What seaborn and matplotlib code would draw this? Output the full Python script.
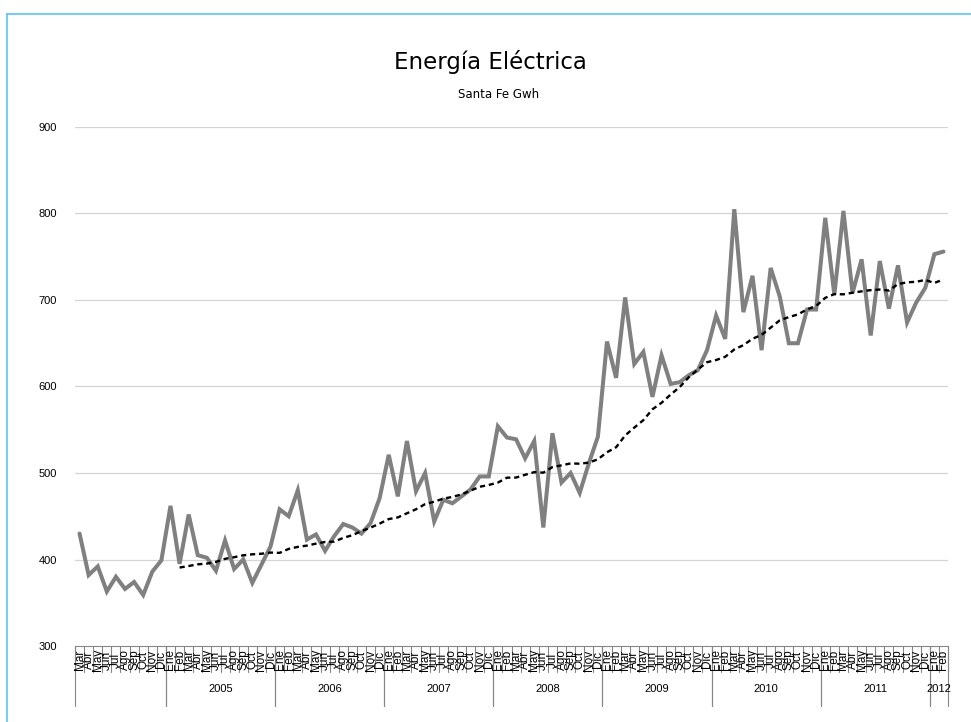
import numpy as np
import pandas as pd
import matplotlib
matplotlib.use("Agg")
import matplotlib.pyplot as plt
import seaborn as sns
from matplotlib.lines import Line2D
from matplotlib.transforms import blended_transform_factory

# Monthly electricity demand, Santa Fe (GWh), Mar 2004 - Feb 2012
gwh_2004 = [430, 382, 392, 363, 380, 366, 374, 359, 386, 399]
gwh_2005 = [462, 395, 452, 405, 402, 387, 422, 389, 400, 373, 394, 415]
gwh_2006 = [458, 450, 480, 423, 429, 410, 427, 441, 437, 430, 442, 471]
gwh_2007 = [521, 473, 537, 479, 500, 444, 469, 465, 473, 481, 496, 496]
gwh_2008 = [554, 541, 539, 517, 537, 437, 546, 489, 500, 477, 511, 542]
gwh_2009 = [652, 610, 703, 626, 640, 588, 636, 603, 605, 613, 619, 642]
gwh_2010 = [682, 655, 805, 686, 728, 642, 737, 704, 650, 650, 689, 689]
gwh_2011 = [795, 706, 803, 708, 747, 659, 745, 690, 740, 674, 697, 714]
gwh_2012 = [753, 756]

meses = ["Ene", "Feb", "Mar", "Abr", "May", "Jun",
         "Jul", "Ago", "Sep", "Oct", "Nov", "Dic"]
year_labels = ["", "2005", "2006", "2007", "2008", "2009", "2010", "2011", "2012"]
year_blocks = [gwh_2004, gwh_2005, gwh_2006, gwh_2007, gwh_2008,
               gwh_2009, gwh_2010, gwh_2011, gwh_2012]
y_ticks = [300, 400, 500, 600, 700, 800, 900]

values = [v for block in year_blocks for v in block]
month_labels = meses[2:] + meses * 7 + meses[:2]
year_sizes = [len(b) for b in year_blocks]

df = pd.DataFrame({"idx": np.arange(len(values)), "gwh": values})
# 12-period moving average trend line
df["media_movil"] = df["gwh"].rolling(12).mean()

sns.set_theme(style="white")
plt.rcParams["font.family"] = ["Liberation Sans", "DejaVu Sans"]

W, H = 971, 722
fig = plt.figure(figsize=(W / 100, H / 100), dpi=100)
fig.patch.set_facecolor("white")

x_left, x_right, y_top, y_bot = 75, 948, 127, 646
ax = fig.add_axes([x_left / W, 1 - y_bot / H, (x_right - x_left) / W, (y_bot - y_top) / H])
ax.set_facecolor("white")

sns.lineplot(data=df, x="idx", y="gwh", ax=ax, color="#808080", lw=2.9,
             solid_joinstyle="miter", zorder=3)
sns.lineplot(data=df.dropna(), x="idx", y="media_movil", ax=ax, color="black",
             lw=1.7, dashes=False, zorder=4)
ax.lines[-1].set_dashes((2.2, 1.6))

ax.set_xlim(-0.5, len(values) - 0.5)
ax.set_ylim(300, 900)
ax.set_yticks(y_ticks)
ax.set_yticklabels([str(t) for t in y_ticks], fontsize=8, color="black")
ax.tick_params(axis="y", length=0, pad=13)
ax.set_xticks([])
ax.set_xlabel("")
ax.set_ylabel("")
for t in y_ticks[1:]:
    ax.axhline(t, color="#d4d4d4", lw=0.9, zorder=1)
for s in ["top", "right", "left"]:
    ax.spines[s].set_visible(False)
ax.spines["bottom"].set_color("#868686")
ax.spines["bottom"].set_linewidth(0.8)

# Two-level category axis: months, then years
trans = blended_transform_factory(ax.transData, fig.transFigure)
fy = lambda px: 1 - px / H
sep_col = "#868686"
for k in range(len(values) + 1):
    fig.add_artist(Line2D([k - 0.5, k - 0.5], [fy(646), fy(672)], transform=trans,
                          color=sep_col, lw=0.8))
for i, lab in enumerate(month_labels):
    fig.text(i, fy(660), lab, transform=trans, rotation=90, ha="center",
             va="center", fontsize=8.5, color="black")
start = 0
for lab, n in zip(year_labels, year_sizes):
    for b in (start, start + n):
        fig.add_artist(Line2D([b - 0.5, b - 0.5], [fy(646), fy(706)], transform=trans,
                              color=sep_col, lw=0.8))
    if lab:
        fig.text(start + (n - 1) / 2, fy(689), lab, transform=trans, ha="center",
                 va="center", fontsize=8, color="black")
    start += n

# Titles
fig.text(490 / W, fy(69), "Energía Eléctrica", ha="center", va="baseline",
         fontsize=16.5, family=["DejaVu Sans"], color="black")
fig.text(499 / W, fy(98), "Santa Fe Gwh", ha="center", va="baseline",
         fontsize=8.5, family=["DejaVu Sans"], color="black")

# Chart frame
frame_col = "#5BC5F0"
fig.add_artist(Line2D([7 / W, 1], [fy(14), fy(14)], transform=fig.transFigure,
                      color=frame_col, lw=1.2))
fig.add_artist(Line2D([7 / W, 7 / W], [fy(14), 0], transform=fig.transFigure,
                      color=frame_col, lw=1.2))

fig.savefig("out.png", dpi=100, facecolor="white")
